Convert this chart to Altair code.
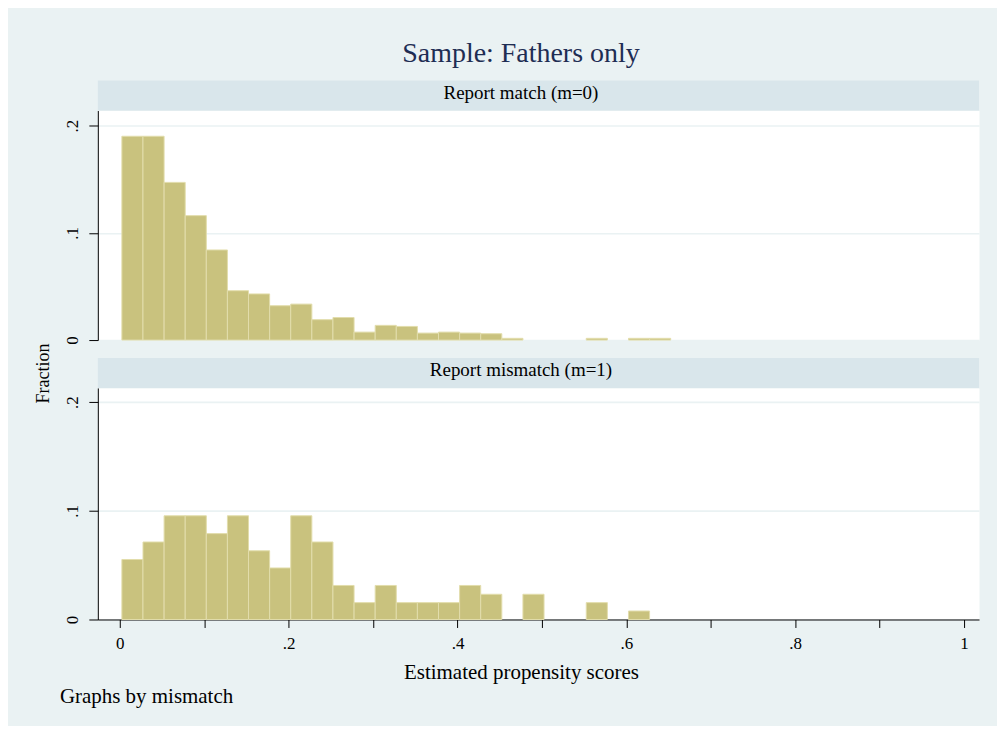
import altair as alt
import pandas as pd

# ---- data ----
bin_lo = [0.0025, 0.0275, 0.0525, 0.0775, 0.1025, 0.1275, 0.1525, 0.1775, 0.2025,
          0.2275, 0.2525, 0.2775, 0.3025, 0.3275, 0.3525, 0.3775, 0.4025, 0.4275,
          0.4525, 0.4775, 0.5025, 0.5275, 0.5525, 0.5775, 0.6025, 0.6275]
bin_width = 0.025

match_frac = [0.190, 0.190, 0.147, 0.116, 0.084, 0.046, 0.043, 0.032, 0.0335,
              0.019, 0.021, 0.0074, 0.0137, 0.0127, 0.0065, 0.0074, 0.0065, 0.0059,
              0.0016, 0.0, 0.0, 0.0, 0.0016, 0.0, 0.0016, 0.0016]
mismatch_frac = [0.0552, 0.0713, 0.0954, 0.0954, 0.079, 0.0954, 0.0632, 0.0474, 0.0954,
                 0.0713, 0.0313, 0.0155, 0.0313, 0.0155, 0.0155, 0.0155, 0.0313, 0.0232,
                 0.0, 0.0232, 0.0, 0.0, 0.0155, 0.0, 0.0078, 0.0]

panel_labels = ["Report match (m=0)", "Report mismatch (m=1)"]
title_text = "Sample: Fathers only"
x_title = "Estimated propensity scores"
y_title = "Fraction"
note_text = "Graphs by mismatch"
x_ticks = [0, 0.1, 0.2, 0.3, 0.4, 0.5, 0.6, 0.7, 0.8, 0.9, 1.0]
y_ticks = [0, 0.1, 0.2]

# ---- styling ----
FONT = "Liberation Serif"
BG = "#EAF2F3"
STRIP = "#D9E6EB"
BAR = "#C9C27E"
BAR_EDGE = "#E2DDAC"
NAVY = "#1E2D53"
W = 883
X_DOMAIN = [-0.026, 1.0177]

one = pd.DataFrame({"a": [0]})


def make_panel(vals, label, height, ymax, bottom):
    df = pd.DataFrame({"lo": bin_lo,
                       "hi": [v + bin_width for v in bin_lo],
                       "frac": vals})
    df["base"] = 0.0
    df = df[df["frac"] > 0]

    yaxis = alt.Axis(values=y_ticks, grid=True, gridColor=BG, gridWidth=1.7,
                     domainColor="black", tickColor="black", tickSize=9,
                     labelExpr="datum.value == 0 ? '0' : replace(format(datum.value, '.1f'), '0.', '.')",
                     labelAngle=270, labelAlign="center", labelBaseline="middle",
                     labelPadding=16, labelFont=FONT, labelFontSize=17, labelColor="black",
                     title=y_title if bottom else "",
                     titleFont=FONT, titleFontSize=18, titleFontWeight="normal",
                     titleColor="black", titleAngle=270, titleX=-54, titleY=-15,
                     titleAlign="center", titleBaseline="middle")
    if bottom:
        xaxis = alt.Axis(values=x_ticks, grid=False, domainColor="black",
                         tickColor="black", tickSize=8,
                         labelExpr="(round(datum.value*10) % 2 == 0) ? (datum.value == 0 ? '0' : (datum.value >= 0.99 ? '1' : replace(format(datum.value, '.1f'), '0.', '.'))) : ''",
                         labelFont=FONT, labelFontSize=17, labelColor="black",
                         labelBaseline="alphabetic", labelPadding=21, labelFlush=False,
                         title=x_title, titleFont=FONT, titleFontSize=21,
                         titleFontWeight="normal", titleColor="black",
                         titleX=424, titleY=59, titleAlign="center",
                         titleBaseline="alphabetic")
    else:
        xaxis = None

    bars = alt.Chart(df).mark_rect(fill=BAR, stroke=BAR_EDGE, strokeWidth=1).encode(
        x=alt.X("lo:Q", scale=alt.Scale(domain=X_DOMAIN, nice=False, zero=False), axis=xaxis),
        x2="hi:Q",
        y=alt.Y("frac:Q", scale=alt.Scale(domain=[0, ymax], nice=False), axis=yaxis),
        y2="base:Q",
    )
    strip = alt.Chart(one).mark_rect(fill=STRIP).encode(
        x=alt.value(0), x2=alt.value(W), y=alt.value(-30), y2=alt.value(0))
    strip_txt = alt.Chart(one).mark_text(text=label, font=FONT, fontSize=19,
                                         color="black", align="center",
                                         baseline="alphabetic").encode(
        x=alt.value(424), y=alt.value(-12))
    layers = [strip, strip_txt, bars]
    if not bottom:
        ttl = alt.Chart(one).mark_text(text=title_text, font=FONT, fontSize=28,
                                       color=NAVY, align="center",
                                       baseline="alphabetic").encode(
            x=alt.value(424), y=alt.value(-49))
        layers.append(ttl)
    else:
        note = alt.Chart(one).mark_text(text=note_text, font=FONT, fontSize=21,
                                        color="black", align="left",
                                        baseline="alphabetic").encode(
            x=alt.value(-38), y=alt.value(316))
        frame = alt.Chart(one).mark_rect(opacity=0).encode(
            x=alt.value(-89), x2=alt.value(900), y=alt.value(-379), y2=alt.value(337))
        layers = [frame] + layers + [note]
    return alt.layer(*layers).properties(width=W, height=height)


top = make_panel(match_frac, panel_labels[0], 230, 0.214, False)
bot = make_panel(mismatch_frac, panel_labels[1], 232, 0.213, True)

chart = alt.vconcat(top, bot, spacing=48, bounds="flush").configure(
    background=BG, padding=0, font=FONT
).configure_view(fill="white", stroke="transparent")

chart.save("out.html", embed_options={"renderer": "svg", "actions": False})
